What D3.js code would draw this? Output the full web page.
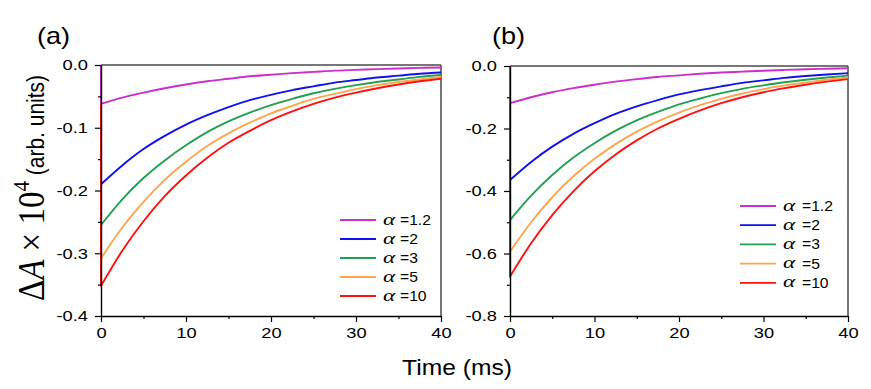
<!DOCTYPE html>
<html>
<head>
<meta charset="utf-8">
<script src="https://cdn.jsdelivr.net/npm/d3@7"></script>
<style>
  html, body { margin: 0; padding: 0; background: #fff; }
  svg { display: block; }
</style>
</head>
<body>
<svg id="chart" width="871" height="389"></svg>
<script>
// ---------------- data ----------------
const times = [0, 2.5, 5, 7.5, 10, 12.5, 15, 17.5, 20, 22.5, 25, 27.5, 30, 32.5, 35, 37.5, 40];
const alphaLabels = ["1.2", "2", "3", "5", "10"];
const seriesColors = ["#cc2ecc", "#1010f0", "#20a050", "#ffa550", "#ff1010"];

// panel (a)
const a_alpha1_2 = [-0.062, -0.052, -0.044, -0.037, -0.031, -0.026, -0.022, -0.018, -0.0155, -0.013, -0.011, -0.009, -0.0078, -0.0065, -0.0055, -0.0046, -0.0039];
const a_alpha2   = [-0.190, -0.160, -0.134, -0.113, -0.095, -0.080, -0.067, -0.056, -0.0475, -0.040, -0.034, -0.028, -0.024, -0.020, -0.017, -0.014, -0.012];
const a_alpha3   = [-0.255, -0.214, -0.180, -0.152, -0.128, -0.107, -0.090, -0.076, -0.064, -0.054, -0.045, -0.038, -0.032, -0.027, -0.023, -0.019, -0.016];
const a_alpha5   = [-0.308, -0.259, -0.218, -0.183, -0.154, -0.129, -0.109, -0.092, -0.077, -0.065, -0.054, -0.046, -0.0385, -0.032, -0.027, -0.023, -0.019];
const a_alpha10  = [-0.352, -0.296, -0.249, -0.209, -0.176, -0.148, -0.124, -0.105, -0.088, -0.074, -0.062, -0.052, -0.044, -0.037, -0.031, -0.026, -0.022];

// panel (b)
const b_alpha1_2 = [-0.119, -0.100, -0.084, -0.071, -0.060, -0.050, -0.042, -0.035, -0.030, -0.025, -0.021, -0.018, -0.015, -0.0125, -0.0105, -0.0088, -0.0074];
const b_alpha2   = [-0.365, -0.307, -0.258, -0.217, -0.183, -0.153, -0.129, -0.109, -0.091, -0.077, -0.065, -0.054, -0.046, -0.038, -0.032, -0.027, -0.023];
const b_alpha3   = [-0.493, -0.415, -0.349, -0.293, -0.247, -0.207, -0.174, -0.147, -0.123, -0.104, -0.087, -0.073, -0.062, -0.052, -0.044, -0.037, -0.031];
const b_alpha5   = [-0.594, -0.500, -0.420, -0.353, -0.297, -0.250, -0.210, -0.177, -0.149, -0.125, -0.105, -0.088, -0.074, -0.062, -0.053, -0.044, -0.037];
const b_alpha10  = [-0.674, -0.567, -0.477, -0.401, -0.337, -0.283, -0.238, -0.200, -0.169, -0.142, -0.119, -0.100, -0.084, -0.071, -0.060, -0.050, -0.042];

const xTicks = [0, 10, 20, 30, 40];
const xMinorTicks = [5, 15, 25, 35];
const aYTicks = [0, -0.1, -0.2, -0.3, -0.4];
const aYMinorTicks = [-0.05, -0.15, -0.25, -0.35];
const bYTicks = [0, -0.2, -0.4, -0.6, -0.8];
const bYMinorTicks = [-0.1, -0.3, -0.5, -0.7];

// ---------------- drawing ----------------
const svg = d3.select("#chart");
const SANS = "'Liberation Sans', Arial, sans-serif";
const SERIF = "'Liberation Serif', 'Times New Roman', serif";
const SX = 1.22; // horizontal stretch of the reference's text

const fmtY = v => (Math.abs(v) < 1e-9 ? "0.0" : v.toFixed(1));

function panel(cfg) {
  const x = d3.scaleLinear().domain([0, 40]).range(cfg.xr);
  const y = d3.scaleLinear().domain(cfg.yd).range(cfg.yr);
  const g = svg.append("g");

  // frame top/right
  g.append("line").attr("x1", cfg.xr[0]).attr("x2", cfg.xr[1])
    .attr("y1", cfg.yr[1]).attr("y2", cfg.yr[1])
    .attr("stroke", "#4a4a4a").attr("stroke-width", 1.5);
  g.append("line").attr("x1", cfg.xr[1]).attr("x2", cfg.xr[1])
    .attr("y1", cfg.yr[1]).attr("y2", cfg.yr[0])
    .attr("stroke", "#4a4a4a").attr("stroke-width", 1.5);

  // curves
  const line = d3.line().x((d) => x(d[0])).y((d) => y(d[1])).curve(d3.curveMonotoneX);
  const order = [1, 2, 3, 4, 0];
  order.forEach(i => {
    const vals = cfg.series[i];
    const pts = times.map((t, k) => [t, vals[k]]);
    const body = line(pts).replace(/^M/, "L");
    const d = `M${x(0)},${y(0)}` + body;
    g.append("path").attr("d", d).attr("fill", "none")
      .attr("stroke", seriesColors[i]).attr("stroke-width", 1.9)
      .attr("stroke-linejoin", "round");
  });

  // axes
  const xAx = g.append("g").attr("transform", `translate(0,${cfg.yr[0]})`)
    .call(d3.axisBottom(x).tickValues(xTicks).tickSize(6).tickSizeOuter(0).tickPadding(5).tickFormat(d3.format("d")));
  const xAxMin = g.append("g").attr("transform", `translate(0,${cfg.yr[0]})`)
    .call(d3.axisBottom(x).tickValues(xMinorTicks).tickSize(3).tickSizeOuter(0).tickFormat(""));
  const yAx = g.append("g").attr("transform", `translate(${cfg.xr[0]},0)`)
    .call(d3.axisLeft(y).tickValues(cfg.yTicks).tickSize(6).tickSizeOuter(0).tickPadding(5).tickFormat(fmtY));
  const yAxMin = g.append("g").attr("transform", `translate(${cfg.xr[0]},0)`)
    .call(d3.axisLeft(y).tickValues(cfg.yMinor).tickSize(3).tickSizeOuter(0).tickFormat(""));
  xAxMin.select(".domain").remove();
  yAxMin.select(".domain").remove();
  [xAx, xAxMin, yAx, yAxMin].forEach(a => {
    a.selectAll("path.domain").attr("stroke", "#000").attr("stroke-width", 1.4);
    a.selectAll(".tick line").attr("stroke", "#000").attr("stroke-width", 1.2);
  });
  xAx.selectAll("text").attr("font-family", SANS).attr("font-size", 15).attr("fill", "#000")
    .attr("transform", `scale(${SX},1)`);
  yAx.selectAll("text").attr("font-family", SANS).attr("font-size", 15).attr("fill", "#000")
    .attr("x", -13 / SX).attr("transform", `scale(${SX},1)`);

  // panel label
  svg.append("text").attr("font-family", SANS).attr("font-size", 23)
    .attr("transform", `translate(${cfg.lab[0]},${cfg.lab[1]}) scale(${SX - 0.04},1)`)
    .text(cfg.label);

  // legend
  const lg = svg.append("g");
  alphaLabels.forEach((lab, i) => {
    const yy = cfg.leg.y0 + i * cfg.leg.dy;
    lg.append("line").attr("x1", cfg.leg.x).attr("x2", cfg.leg.x + 36)
      .attr("y1", yy).attr("y2", yy)
      .attr("stroke", seriesColors[i]).attr("stroke-width", 1.8);
    lg.append("text").attr("font-family", SERIF).attr("font-style", "italic")
      .attr("font-size", 16)
      .attr("transform", `translate(${cfg.leg.x + 43},${yy + 4.5}) scale(1.45,1)`)
      .text("α");
    lg.append("text").attr("font-family", SANS).attr("font-size", 14)
      .attr("transform", `translate(${cfg.leg.x + cfg.leg.eq},${yy + 5}) scale(1.12,1)`)
      .text("=" + lab);
  });
}

panel({
  xr: [101, 441], yd: [-0.4, 0], yr: [316, 65],
  series: [a_alpha1_2, a_alpha2, a_alpha3, a_alpha5, a_alpha10],
  yTicks: aYTicks, yMinor: aYMinorTicks,
  label: "(a)", lab: [37, 44],
  leg: { x: 340, y0: 220, dy: 19, eq: 60 }
});
panel({
  xr: [510, 848], yd: [-0.8, 0], yr: [316, 66],
  series: [b_alpha1_2, b_alpha2, b_alpha3, b_alpha5, b_alpha10],
  yTicks: bYTicks, yMinor: bYMinorTicks,
  label: "(b)", lab: [492, 44],
  leg: { x: 740, y0: 206, dy: 19.2, eq: 62 }
});

// y-axis label
const yl = svg.append("text")
  .attr("transform", `translate(44,188) scale(1.12,1) rotate(-90)`)
  .attr("text-anchor", "middle");
yl.append("tspan").attr("font-family", SERIF).attr("font-size", 33).text("Δ");
yl.append("tspan").attr("font-family", SERIF).attr("font-size", 33).attr("font-style", "italic").text("A");
yl.append("tspan").attr("font-family", SERIF).attr("font-size", 33).text(" × 10");
yl.append("tspan").attr("font-family", SERIF).attr("font-size", 21).attr("dy", -13).text("4");
yl.append("tspan").attr("font-family", SANS).attr("font-size", 21).attr("dy", 13).text("  (arb. units)");

// x-axis title
svg.append("text").attr("font-family", SANS).attr("font-size", 22)
  .attr("text-anchor", "middle")
  .attr("transform", `translate(457,375) scale(1.12,1)`)
  .text("Time (ms)");
</script>
</body>
</html>
